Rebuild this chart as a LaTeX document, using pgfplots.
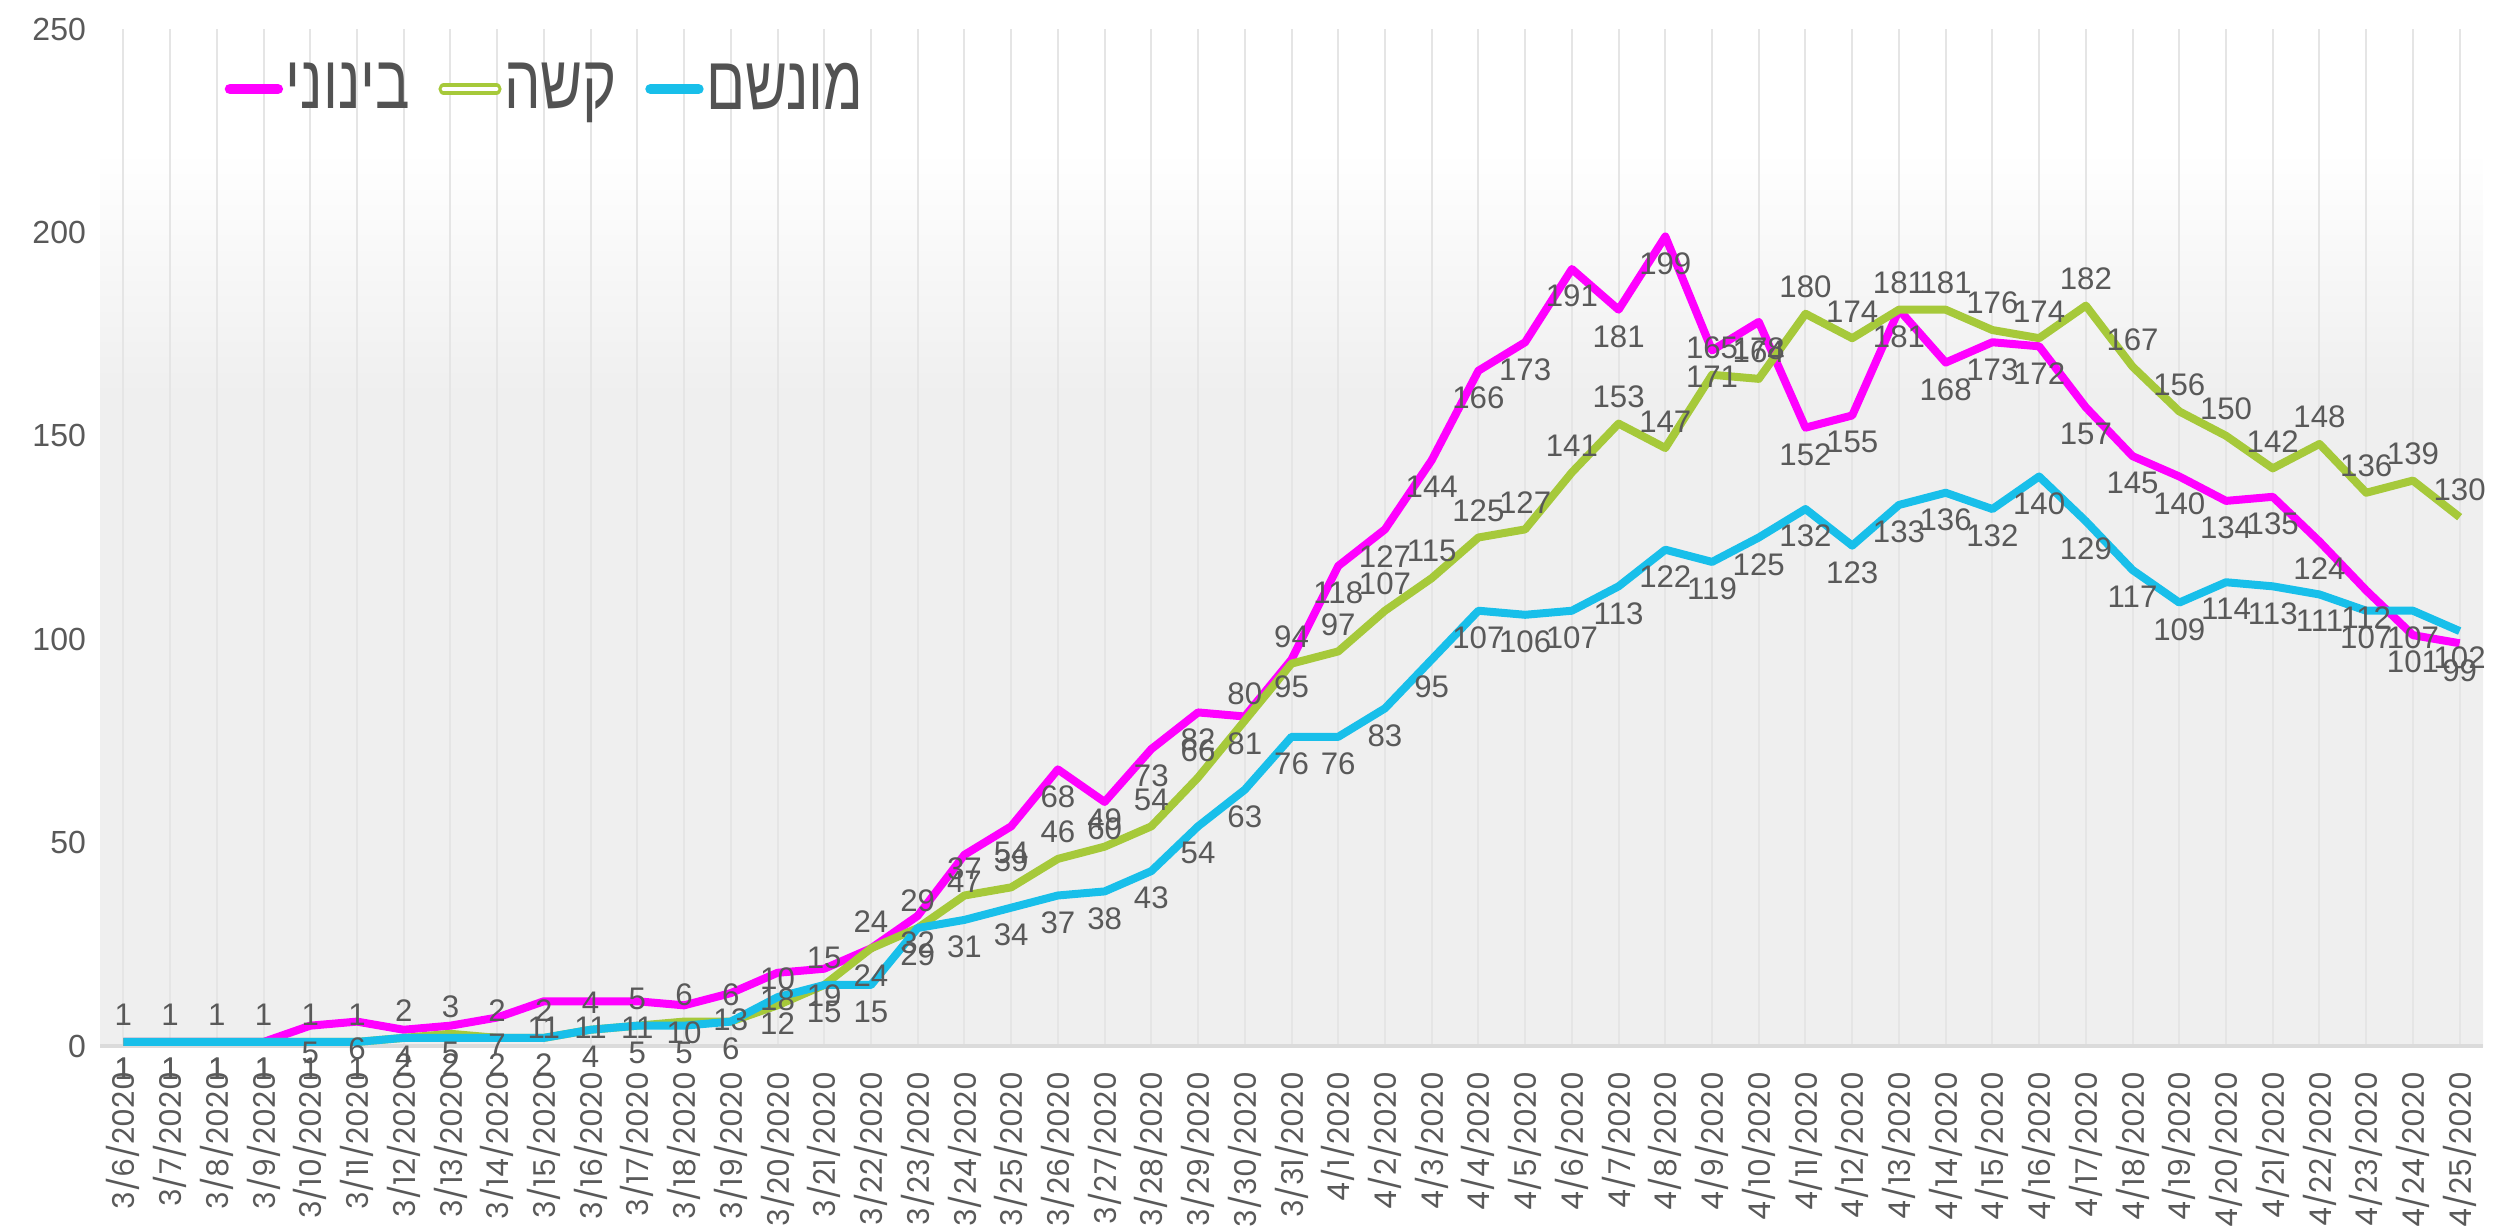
\documentclass[border=0pt]{standalone}
\usepackage{fontspec}
\usepackage{pgfplots}
\usepackage{pgfplotstable}
\pgfplotsset{compat=1.18}
\TeXXeTstate=1
\setmainfont{Liberation Sans}
\newfontfamily\heb[Script=Hebrew, FakeStretch=0.76]{Liberation Sans}
\newfontfamily\tickfont{Poppins}
\definecolor{cmag}{HTML}{FF00FF}
\definecolor{cgrn}{HTML}{A6C93A}
\definecolor{ccyn}{HTML}{18BFEA}
\definecolor{txt}{HTML}{595959}
\definecolor{bgg}{HTML}{EFEFEF}
\pgfdeclareverticalshading{bgshade}{100bp}{color(0bp)=(bgg); color(25bp)=(bgg); color(57bp)=(bgg); color(69bp)=(white); color(100bp)=(white)}
\pgfplotstableread{
x mag grn cyn
0 1 1 1
1 1 1 1
2 1 1 1
3 1 1 1
4 5 1 1
5 6 1 1
6 4 2 2
7 5 3 2
8 7 2 2
9 11 2 2
10 11 4 4
11 11 5 5
12 10 6 5
13 13 6 6
14 18 10 12
15 19 15 15
16 24 24 15
17 32 29 29
18 47 37 31
19 54 39 34
20 68 46 37
21 60 49 38
22 73 54 43
23 82 66 54
24 81 80 63
25 95 94 76
26 118 97 76
27 127 107 83
28 144 115 95
29 166 125 107
30 173 127 106
31 191 141 107
32 181 153 113
33 199 147 122
34 171 165 119
35 178 164 125
36 152 180 132
37 155 174 123
38 181 181 133
39 168 181 136
40 173 176 132
41 172 174 140
42 157 182 129
43 145 167 117
44 140 156 109
45 134 150 114
46 135 142 113
47 124 148 111
48 112 136 107
49 101 139 107
50 99 130 102
}\data
\begin{document}
\begin{tikzpicture}
\useasboundingbox (0,0) rectangle (624pt,306.25pt);
\begin{axis}[
  at={(25pt,44.75pt)}, anchor=south west,
  scale only axis, width=595.75pt, height=254.25pt,
  xmin=-0.5, xmax=50.5, ymin=0, ymax=250,
  clip=false,
  axis background/.style={shade, shading=bgshade},
  separate axis lines,
  axis x line*=bottom, axis y line*=left,
  x axis line style={draw=black!14, line width=0.8pt, -},
  y axis line style={draw=none},
  major tick length=0pt, tick style={draw=none},
  xtick={0,...,50},
  xticklabels={3/6/2020,3/7/2020,3/8/2020,3/9/2020,3/10/2020,3/11/2020,3/12/2020,3/13/2020,3/14/2020,3/15/2020,3/16/2020,3/17/2020,3/18/2020,3/19/2020,3/20/2020,3/21/2020,3/22/2020,3/23/2020,3/24/2020,3/25/2020,3/26/2020,3/27/2020,3/28/2020,3/29/2020,3/30/2020,3/31/2020,4/1/2020,4/2/2020,4/3/2020,4/4/2020,4/5/2020,4/6/2020,4/7/2020,4/8/2020,4/9/2020,4/10/2020,4/11/2020,4/12/2020,4/13/2020,4/14/2020,4/15/2020,4/16/2020,4/17/2020,4/18/2020,4/19/2020,4/20/2020,4/21/2020,4/22/2020,4/23/2020,4/24/2020,4/25/2020},
  ytick={0,50,...,250},
  xmajorgrids, major x grid style={draw=black!10, line width=0.5pt},
  xticklabel style={rotate=90, anchor=east, font=\tickfont\fontsize{7.5}{8}\selectfont, text=txt},
  xticklabel shift=3pt,
  yticklabel style={font=\fontsize{8}{9}\selectfont, text=txt},
  /pgf/number format/assume math mode=true,
  nodes near coords,
  nodes near coords style={font=\fontsize{7.8}{8}\selectfont, text=txt, inner sep=1pt},
  legend columns=3,
  legend style={at={(rel axis cs:0.052,0.941)}, anchor=west, draw=none, fill=none,
    font=\heb\fontsize{19}{20}\selectfont, text=black!68,
    inner sep=0pt, nodes={inner sep=0.6pt},
    /tikz/every even column/.append style={column sep=6.5pt}},
  legend image code/.code={\draw[#1, line width=2.6pt, line cap=round] (0pt,0pt) -- (12pt,0pt);},
]
\addplot[cmag, line width=2pt, line join=round, every node near coord/.append style={anchor=north, yshift=-2pt}] table[x=x, y=mag]{\data};
\addlegendentry{\beginR בינוני\endR}
\addplot[cgrn, line width=2pt, line join=round, every node near coord/.append style={anchor=south, yshift=2pt},
  legend image code/.code={\draw[cgrn, line width=0.8pt, double=white, double distance=1.2pt, line cap=round] (0pt,0pt) -- (13pt,0pt);}] table[x=x, y=grn]{\data};
\addlegendentry{\beginR קשה\endR}
\addplot[ccyn, line width=2pt, line join=round, every node near coord/.append style={anchor=north, yshift=-2pt}] table[x=x, y=cyn]{\data};
\addlegendentry{\beginR מונשם\endR}
\end{axis}
\end{tikzpicture}
\end{document}
